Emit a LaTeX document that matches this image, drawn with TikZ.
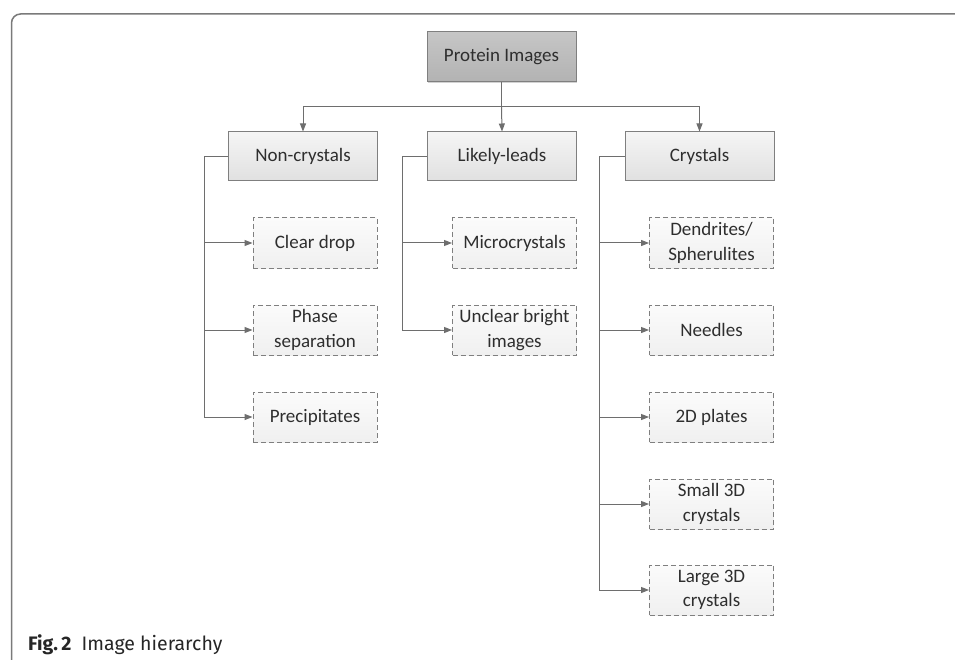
\documentclass[tikz,border=0pt]{standalone}
\usepackage{fontspec}
\setmainfont{Carlito}
\newfontfamily\capfont{Fira Sans}
\usetikzlibrary{arrows.meta,shadows}
\definecolor{linecol}{HTML}{6E6E6E}
\definecolor{boxline}{HTML}{7F7F7F}
\definecolor{framecol}{HTML}{7A7A7A}
\definecolor{txtcol}{HTML}{2E2E2E}
\tikzset{
  rootbox/.style={draw=boxline, line width=1pt, top color=gray!45, bottom color=gray!60,
     minimum width=149pt, minimum height=50pt, inner sep=2pt, text=txtcol,
     font=\fontsize{19}{23}\selectfont,
     drop shadow={shadow xshift=1.2pt, shadow yshift=-1.5pt, opacity=0.35}},
  parentbox/.style={draw=boxline, line width=1pt, top color=gray!8, bottom color=gray!24,
     minimum width=149pt, minimum height=49pt, inner sep=2pt, text=txtcol,
     font=\fontsize{19}{23}\selectfont},
  childbox/.style={draw=boxline, line width=1pt, dash pattern=on 5pt off 3pt,
     top color=gray!3, bottom color=gray!12,
     minimum width=124pt, minimum height=50pt, inner sep=2pt, text=txtcol, align=center,
     font=\fontsize{19}{24.5}\selectfont},
  conn/.style={draw=linecol, line width=1pt},
  arr/.style={conn, -{Triangle[length=8pt,width=6pt]}},
}
\begin{document}
\begin{tikzpicture}[x=1pt,y=-1pt]
\useasboundingbox (0,0) rectangle (955,660);
\fill[white] (0,0) rectangle (955,660);
% frame
\draw[framecol, line width=1.5pt, rounded corners=9pt] (11.5,662) -- (11.5,14) -- (957,14);
% caption
\node[anchor=base west, inner sep=0pt, font=\capfont\fontsize{19.5}{23}\selectfont, text=black!85]
  (cap) at (28,650) {\textbf{Fig.\,2}\ \ Image hierarchy};
% nodes
\node[rootbox] (root) at (501.5,57) {Protein Images};
\node[parentbox] (nc) at (303,156.5) {Non-crystals};
\node[parentbox] (ll) at (502,156.5) {Likely-leads};
\node[parentbox] (cr) at (699.5,156.5) {Crystals};

\node[childbox] (n1) at (315,243) {Clear drop};
\node[childbox] (n2) at (315,330) {Phase\\separation};
\node[childbox] (n3) at (315,417) {Precipitates};

\node[childbox] (l1) at (514.5,243) {Microcrystals};
\node[childbox] (l2) at (514.5,330) {Unclear bright\\images};

\node[childbox] (c1) at (711.5,243) {Dendrites/\\Spherulites};
\node[childbox] (c2) at (711.5,330) {Needles};
\node[childbox] (c3) at (711.5,417) {2D plates};
\node[childbox] (c4) at (711.5,504) {Small 3D\\crystals};
\node[childbox] (c5) at (711.5,590) {Large 3D\\crystals};

% top connectors
\coordinate (bus) at (501.5,107);
\draw[conn] (root.south) -- (bus);
\draw[arr] (bus) -| (nc.north);
\draw[arr] (bus) -| (cr.north);
\draw[arr] (bus) -- (ll.north);

% side connectors
\coordinate (ncx) at (204,156.5);
\coordinate (llx) at (402,156.5);
\coordinate (crx) at (599,156.5);
\draw[conn] (nc.west) -- (ncx) -- (ncx |- n3.west);
\foreach \c in {n1,n2,n3} \draw[arr] (ncx |- \c.west) -- (\c.west);
\draw[conn] (ll.west) -- (llx) -- (llx |- l2.west);
\foreach \c in {l1,l2} \draw[arr] (llx |- \c.west) -- (\c.west);
\draw[conn] (cr.west) -- (crx) -- (crx |- c5.west);
\foreach \c in {c1,c2,c3,c4,c5} \draw[arr] (crx |- \c.west) -- (\c.west);
\end{tikzpicture}
\end{document}
